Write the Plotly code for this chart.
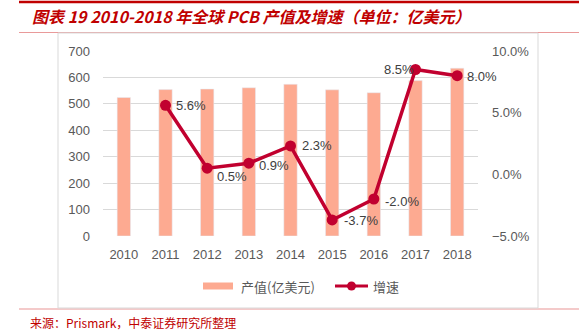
import plotly.graph_objects as go

years = [2010, 2011, 2012, 2013, 2014, 2015, 2016, 2017, 2018]
output_value = [524, 554, 556, 561, 574, 553, 542, 588, 635]
growth_years = [2011, 2012, 2013, 2014, 2015, 2016, 2017, 2018]
growth = [5.6, 0.5, 0.9, 2.3, -3.7, -2.0, 8.5, 8.0]
growth_labels = ["5.6%", "0.5%", "0.9%", "2.3%", "-3.7%", "-2.0%", "8.5%", "8.0%"]
label_shift = [(25, 0), (25, -8), (25, -2), (26, 0), (29, -1), (28, -2), (-17, 0), (25, -1)]

W, H = 586, 331
L, R, T, B = 103, 478, 51, 236

def px(x):
    return (x - L) / (R - L)

def py(y):
    return (B - y) / (B - T)

BAR = "#FDAA91"
LINE = "#C1002F"
RED = "#C00000"
GREY = "#595959"
CJK = "Noto Sans CJK SC"

fig = go.Figure()
fig.add_trace(go.Bar(x=years, y=output_value, marker_color=BAR, width=0.32,
                     name="产值(亿美元)", showlegend=False))
fig.add_trace(go.Scatter(x=growth_years, y=growth, yaxis="y2", mode="lines+markers",
                         line=dict(color=LINE, width=3.5), marker=dict(size=11, color=LINE),
                         name="增速", showlegend=False))

annotations = []
for yr, g, lab, (dx, dy) in zip(growth_years, growth, growth_labels, label_shift):
    annotations.append(dict(x=yr, y=g, xref="x", yref="y2", text=lab, showarrow=False,
                            xshift=dx, yshift=dy, font=dict(size=13, color="#404040",
                            family="Liberation Sans")))

# title
annotations.append(dict(x=px(30), y=py(16), xref="paper", yref="paper", xanchor="left",
                        yanchor="middle", showarrow=False,
                        text="<b><i>图表 19 2010-2018 年全球 PCB 产值及增速（单位：亿美元）</i></b>",
                        font=dict(size=16, color=RED, family=CJK)))
# source
annotations.append(dict(x=px(28), y=py(322), xref="paper", yref="paper", xanchor="left",
                        yanchor="middle", showarrow=False,
                        text="来源：Prismark，中泰证券研究所整理",
                        font=dict(size=12, color=RED, family=CJK)))
# legend texts
annotations.append(dict(x=px(239), y=py(286), xref="paper", yref="paper", xanchor="left",
                        yanchor="middle", showarrow=False, text="产值(亿美元)",
                        font=dict(size=13, color=GREY, family=CJK)))
annotations.append(dict(x=px(371), y=py(286), xref="paper", yref="paper", xanchor="left",
                        yanchor="middle", showarrow=False, text="增速",
                        font=dict(size=13, color=GREY, family=CJK)))

shapes = [
    dict(type="line", xref="paper", yref="paper", x0=px(19), x1=px(579), y0=py(2), y1=py(2),
         line=dict(color=RED, width=2.5)),
    dict(type="line", xref="paper", yref="paper", x0=px(19), x1=px(579), y0=py(32.5), y1=py(32.5),
         line=dict(color="#E99A9A", width=1)),
    dict(type="line", xref="paper", yref="paper", x0=px(19), x1=px(579), y0=py(309), y1=py(309),
         line=dict(color="#F0B8B8", width=1.5)),
    dict(type="rect", xref="paper", yref="paper", x0=px(58), x1=px(538), y0=py(33), y1=py(308),
         line=dict(color="#D9D9D9", width=1)),
    # legend swatches
    dict(type="rect", xref="paper", yref="paper", x0=px(203), x1=px(233), y0=py(282.5), y1=py(289.5),
         fillcolor=BAR, line=dict(width=0)),
    dict(type="line", xref="paper", yref="paper", x0=px(335), x1=px(368), y0=py(286), y1=py(286),
         line=dict(color=LINE, width=3)),
    dict(type="circle", xref="paper", yref="paper", x0=px(347), x1=px(356), y0=py(281.5), y1=py(290.5),
         fillcolor=LINE, line=dict(width=0)),
]

fig.update_layout(
    width=W, height=H,
    margin=dict(l=L, r=W - R, t=T, b=H - B, pad=0),
    paper_bgcolor="white", plot_bgcolor="white",
    showlegend=False,
    xaxis=dict(type="linear", range=[2009.5, 2018.5], tick0=2010, dtick=1,
               showgrid=False, showline=False, ticks="", tickformat="d",
               tickfont=dict(size=13, color=GREY, family="Liberation Sans"),
               ticklabelstandoff=9, zeroline=False),
    yaxis=dict(range=[0, 700], dtick=100, showgrid=True, gridcolor="#D9D9D9", gridwidth=1,
               zeroline=False, showline=False, ticks="",
               tickfont=dict(size=13, color=GREY, family="Liberation Sans"),
               ticklabelstandoff=12),
    yaxis2=dict(range=[-5, 10], dtick=5, overlaying="y", side="right", showgrid=False,
                zeroline=False, showline=False, ticks="", tickformat=".1f", ticksuffix="%",
                tickfont=dict(size=13, color=GREY, family="Liberation Sans"),
                ticklabelstandoff=13),
    annotations=annotations,
    shapes=shapes,
)

fig.write_html("out.html")
